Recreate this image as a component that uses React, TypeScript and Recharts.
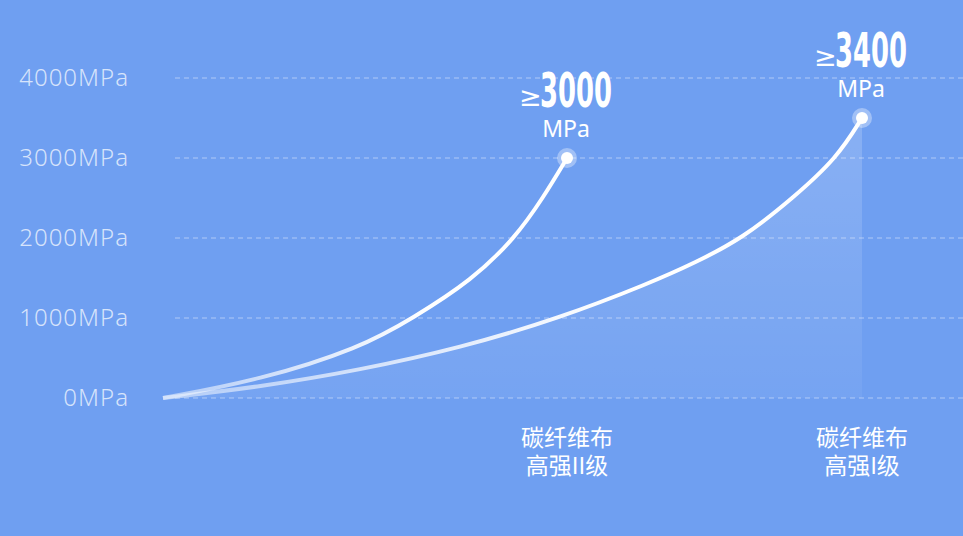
import { Area, CartesianGrid, ComposedChart, Line, ReferenceDot, XAxis, YAxis } from "recharts"

// horizontal position along the chart (0 = origin)
const gradeIIPos = [0, 97, 197, 250, 309, 352, 380, 404]
const gradeIIMpa = [0, 225, 625, 1000, 1475, 2000, 2500, 3000]
const gradeIPos = [0, 97, 197, 297, 397, 487, 532, 580, 630, 674, 699]
const gradeIMpa = [0, 138, 350, 625, 1000, 1437, 1690, 2000, 2500, 3000, 3500]

const yTicks = [0, 1000, 2000, 3000, 4000]
const peakLabels = ["3000", "3400"]
const categoryTop = ["碳纤维布", "碳纤维布"]
const categoryBottom = ["高强II级", "高强I级"]

// merged table for the chart
const positions = Array.from(new Set([...gradeIIPos, ...gradeIPos])).sort((a, b) => a - b)
const data = positions.map((p) => {
  const i2 = gradeIIPos.indexOf(p)
  const i1 = gradeIPos.indexOf(p)
  return {
    pos: p,
    gradeII: i2 >= 0 ? gradeIIMpa[i2] : null,
    gradeI: i1 >= 0 ? gradeIMpa[i1] : null,
  }
})

const ends = [
  { x: gradeIIPos[gradeIIPos.length - 1], y: gradeIIMpa[gradeIIMpa.length - 1] },
  { x: gradeIPos[gradeIPos.length - 1], y: gradeIMpa[gradeIMpa.length - 1] },
]

const BG = "#6f9ff1"
const SANS = "'Noto Sans', 'Liberation Sans', sans-serif"

const YTick = (p: any) => (
  <text
    x={p.x}
    y={p.y}
    dy={8}
    textAnchor="end"
    fill="rgba(255,255,255,0.72)"
    fontSize={24}
    fontWeight={300}
    letterSpacing={1}
    fontFamily={SANS}
  >
    {`${p.payload.value}MPa`}
  </text>
)

const XTick = (p: any) => {
  const i = ends.findIndex((e) => e.x === p.payload.value)
  if (i < 0) return null
  return (
    <text x={p.x} y={p.y} textAnchor="middle" fill="#fff" fontSize={23} fontFamily="'Noto Sans CJK SC', sans-serif">
      <tspan x={p.x} dy={0}>{categoryTop[i]}</tspan>
      <tspan x={p.x} dy={28}>{categoryBottom[i]}</tspan>
    </text>
  )
}

const Peak = (label: string) => (p: any) => {
  const { cx, cy } = p
  return (
    <g>
      <circle cx={cx} cy={cy} r={10} fill="rgba(255,255,255,0.35)" />
      <circle cx={cx} cy={cy} r={6} fill="#fff" />
      <text x={cx - 48} y={cy - 52} fill="#fff" fontSize={27} fontFamily="'DejaVu Sans', sans-serif">
        ≥
      </text>
      <text
        x={cx - 27}
        y={cy - 51}
        fill="#fff"
        fontSize={48}
        fontWeight={700}
        fontFamily="'Liberation Sans Narrow', 'DejaVu Sans Condensed', sans-serif"
        textLength={72}
        lengthAdjust="spacingAndGlyphs"
      >
        {label}
      </text>
      <text x={cx - 1} y={cy - 21} textAnchor="middle" fill="#fff" fontSize={23} fontFamily={SANS}>
        MPa
      </text>
    </g>
  )
}

const GridLine = (p: any) => (
  <line
    x1={p.x1 + 12}
    x2={p.x2}
    y1={p.y1}
    y2={p.y2}
    stroke="rgba(255,255,255,0.45)"
    strokeWidth={1}
    strokeDasharray="5 4"
  />
)

export default function App() {
  return (
    <div style={{ position: "fixed", left: 0, top: 0, width: 963, height: 536, background: BG }}>
      <ComposedChart width={963} height={536} data={data} margin={{ top: 78, right: 0, bottom: 108, left: 0 }}>
        <defs>
          <linearGradient id="strokeFade" x1="0" y1="0" x2="1" y2="0">
            <stop offset="0%" stopColor="#fff" stopOpacity={0.45} />
            <stop offset="65%" stopColor="#fff" stopOpacity={1} />
            <stop offset="100%" stopColor="#fff" stopOpacity={1} />
          </linearGradient>
          <linearGradient id="areaFill" x1="0" y1="0" x2="0" y2="1">
            <stop offset="0%" stopColor="#fff" stopOpacity={0.3} />
            <stop offset="100%" stopColor="#fff" stopOpacity={0.08} />
          </linearGradient>
        </defs>
        <CartesianGrid horizontal={GridLine} vertical={false} />
        <XAxis
          type="number"
          dataKey="pos"
          domain={[0, 800]}
          ticks={ends.map((e) => e.x)}
          height={30}
          axisLine={false}
          tickLine={false}
          tickSize={0}
          tickMargin={48}
          tick={XTick}
          interval={0}
        />
        <YAxis
          domain={[0, 4000]}
          ticks={yTicks}
          width={163}
          axisLine={false}
          tickLine={false}
          tickSize={0}
          tickMargin={34}
          tick={YTick}
          interval={0}
        />
        <Area
          dataKey="gradeI"
          type="basis"
          connectNulls
          stroke="none"
          fill="url(#areaFill)"
          isAnimationActive={false}
        />
        <Line
          dataKey="gradeI"
          type="basis"
          connectNulls
          stroke="url(#strokeFade)"
          strokeWidth={4}
          dot={false}
          isAnimationActive={false}
        />
        <Line
          dataKey="gradeII"
          type="basis"
          connectNulls
          stroke="url(#strokeFade)"
          strokeWidth={4}
          dot={false}
          isAnimationActive={false}
        />
        {ends.map((e, i) => (
          <ReferenceDot key={i} x={e.x} y={e.y} r={10} shape={Peak(peakLabels[i])} />
        ))}
      </ComposedChart>
    </div>
  )
}
